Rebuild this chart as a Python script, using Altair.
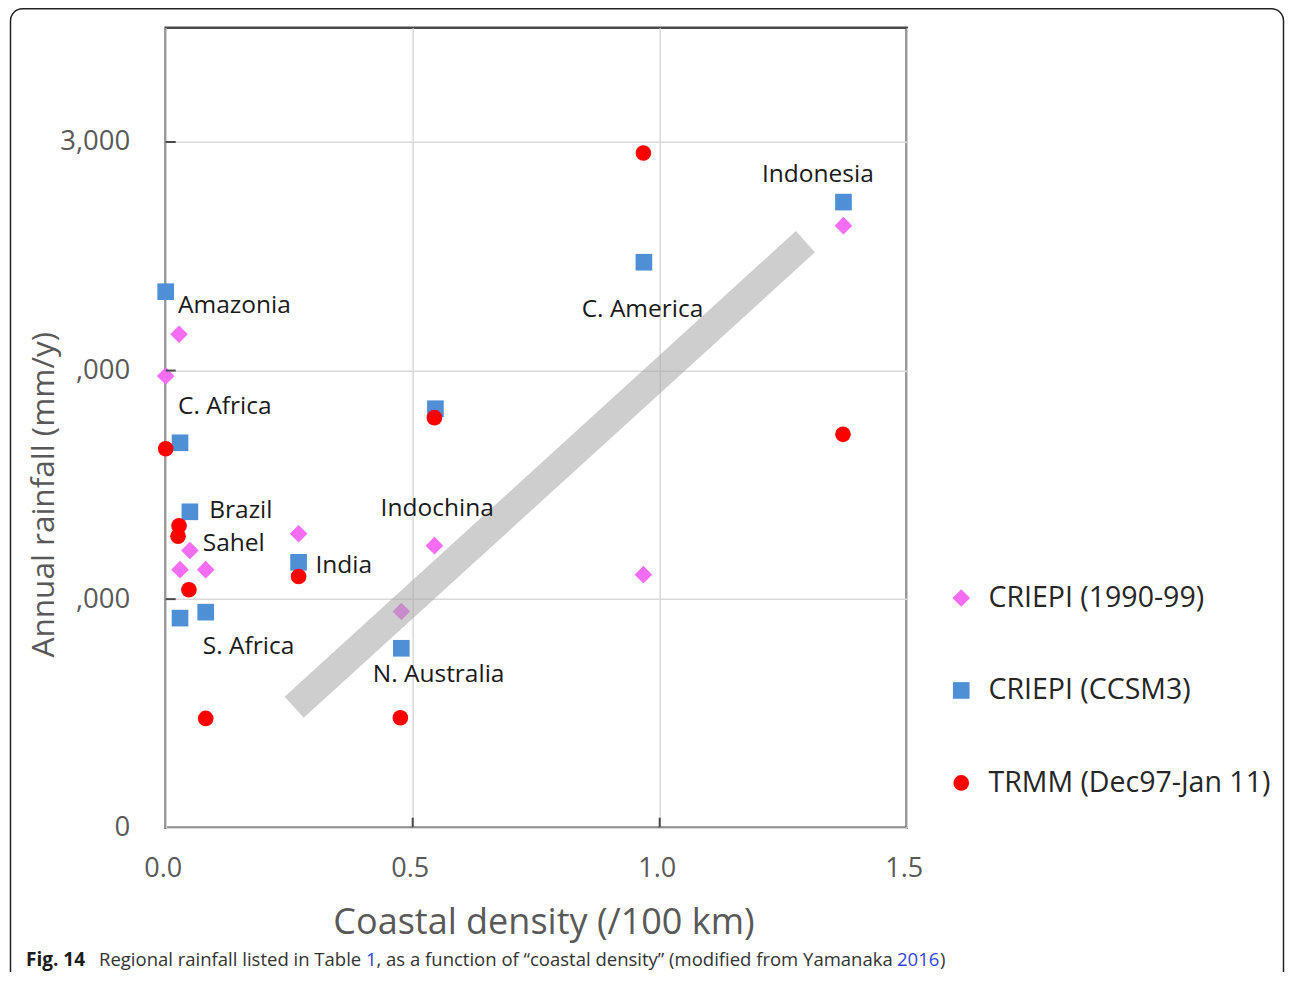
import altair as alt
import pandas as pd

# ---------------- data ----------------
series = ["CRIEPI (1990-99)", "CRIEPI (CCSM3)", "TRMM (Dec97-Jan 11)"]
series_colors = ["#f56cf5", "#4f8fd6", "#ff0000"]
series_shapes = ["diamond", "square", "circle"]
series_sizes = [310, 245, 324]

criepi_9099_x = [0.027, 0.0, 0.049, 0.029, 0.081, 0.269, 0.544, 0.477, 0.967, 1.372]
criepi_9099_y = [2159, 1976, 1213, 1129, 1129, 1286, 1234, 946, 1107, 2634]

criepi_ccsm3_x = [0.0, 0.029, 0.049, 0.269, 0.029, 0.081, 0.546, 0.477, 0.968, 1.372]
criepi_ccsm3_y = [2345, 1684, 1382, 1161, 917, 943, 1833, 785, 2474, 2737]

trmm_x = [0.0, 0.027, 0.025, 0.047, 0.081, 0.269, 0.475, 0.544, 0.967, 1.371]
trmm_y = [1658, 1321, 1275, 1041, 478, 1099, 481, 1794, 2952, 1721]

region_labels = ["Amazonia", "C. Africa", "Brazil", "Sahel", "India", "S. Africa",
                 "Indochina", "N. Australia", "C. America", "Indonesia"]
label_x = [0.025, 0.025, 0.088, 0.075, 0.303, 0.075, 0.435, 0.419, 0.842, 1.207]
label_y = [2282, 1839, 1386, 1240, 1146, 791, 1393, 668, 2265, 2856]

trend_x = [0.260, 1.295]
trend_y = [527, 2564]

x_tick_values = [0.0, 0.5, 1.0, 1.5]
y_tick_values = [0, 1000, 2000, 3000]
y_tick_labels = ["0", ",000", ",000", "3,000"]

caption_parts = ["Fig. 14", "Regional rainfall listed in Table ", "1",
                 ", as a function of \u201ccoastal density\u201d (modified from Yamanaka ",
                 "2016", ")"]

# ---------------- build tables ----------------
rows = []
for s, xs, ys in zip(series, [criepi_9099_x, criepi_ccsm3_x, trmm_x],
                     [criepi_9099_y, criepi_ccsm3_y, trmm_y]):
    for xv, yv in zip(xs, ys):
        rows.append({"series": s, "density": xv, "rain": yv})
df = pd.DataFrame(rows)
labels_df = pd.DataFrame({"label": region_labels, "density": label_x, "rain": label_y})
trend_df = pd.DataFrame({"density": trend_x, "rain": trend_y})

# ---------------- layout ----------------
OX, OY = 165.7, 27.7          # plot origin on the page
W, H = 741.0, 800.0           # plot area
SVG_W, SVG_H = 1277, 964      # whole chart, fits the window
FONT = "Open Sans"
GRAY = "#595959"

xscale = alt.Scale(domain=[0, 1.5], nice=False, zero=False)
yscale = alt.Scale(domain=[0, 3500], nice=False)

expr = "''"
for v, t in zip(y_tick_values, y_tick_labels):
    expr = f"datum.value == {v} ? '{t}' : ({expr})"

xaxis = alt.Axis(values=x_tick_values, format=".1f", grid=True, gridColor="#d9d9d9",
                 gridWidth=1.5, domain=False, ticks=False, labelFontSize=27,
                 labelColor=GRAY, labelFont=FONT, labelPadding=28, labelOffset=-3,
                 labelFlush=False, labelOverlap=False,
                 title="Coastal density (/100 km)", titleFontSize=36, titleColor=GRAY,
                 titleFont=FONT, titleFontWeight="normal", titleX=377.8, titleY=94.5,
                 titleBaseline="middle", titleAlign="center")
yaxis = alt.Axis(values=y_tick_values, labelExpr=expr, grid=True, gridColor="#d9d9d9",
                 gridWidth=1.5, domain=False, ticks=False, labelFontSize=27.5,
                 labelColor=GRAY, labelFont=FONT, labelPadding=36, labelFlush=False,
                 labelOverlap=False,
                 title="Annual rainfall (mm/y)", titleFontSize=31.5, titleColor=GRAY,
                 titleFont=FONT, titleFontWeight="normal", titleAngle=270,
                 titleX=-121.2, titleY=466.5, titleBaseline="middle", titleAlign="center")

X = alt.X("density:Q", scale=xscale, axis=xaxis)
Y = alt.Y("rain:Q", scale=yscale, axis=yaxis)

leg = alt.Legend(title=None, orient="none", legendX=781.3, legendY=556, padding=0,
                 labelFontSize=28.5, labelFont=FONT, labelColor="#262626", rowPadding=63.5,
                 labelOffset=13, symbolStrokeWidth=0, labelLimit=500, symbolOpacity=1)

points = alt.Chart(df).mark_point(filled=True, opacity=1, strokeWidth=0).encode(
    x=X, y=Y,
    color=alt.Color("series:N", scale=alt.Scale(domain=series, range=series_colors), legend=leg),
    shape=alt.Shape("series:N", scale=alt.Scale(domain=series, range=series_shapes), legend=leg),
    size=alt.Size("series:N", scale=alt.Scale(domain=series, range=series_sizes), legend=leg),
)

band = alt.Chart(trend_df).mark_line(strokeWidth=28.5, strokeCap="butt", color="#a6a6a6",
                                     opacity=0.55).encode(x=X, y=Y)

labels = alt.Chart(labels_df).mark_text(align="left", baseline="middle", font=FONT,
                                        fontSize=24.5, color="#1a1a1a").encode(
    x=X, y=Y, text="label:N")

ytick_df = pd.DataFrame({"rain": y_tick_values[1:]})
xtick_df = pd.DataFrame({"density": x_tick_values[1:3]})
yticks = alt.Chart(ytick_df).mark_rule(color="#4a4a4a", strokeWidth=2).encode(
    y=Y, x=alt.value(0), x2=alt.value(10))
xticks = alt.Chart(xtick_df).mark_rule(color="#4a4a4a", strokeWidth=2).encode(
    x=X, y=alt.value(H), y2=alt.value(H - 10))

# caption (annotation text below the plot, positioned relative to plot origin)
cap_x = [26, 99, 366, 376.5, 897, 940]
cap_size = [19, 18.5, 18.5, 18.5, 18.5, 18.5]
cap_color = ["#1a1a1a", "#333333", "#3344dd", "#333333", "#3344dd", "#333333"]
cap_weight = ["bold", "normal", "normal", "normal", "normal", "normal"]
CAP_BASE = 966
caption_layers = []
for t, cx, cs, cc, cw in zip(caption_parts, cap_x, cap_size, cap_color, cap_weight):
    caption_layers.append(
        alt.Chart(pd.DataFrame({"t": [t]})).mark_text(
            align="left", baseline="alphabetic", font=FONT, fontSize=cs,
            fontWeight=cw, color=cc).encode(
            text="t:N", x=alt.value(cx - OX), y=alt.value(CAP_BASE - OY)))

frame = alt.Chart(pd.DataFrame({"f": [0]})).mark_rect(
    fill="transparent", stroke="#222222", strokeWidth=1.5, cornerRadius=12).encode(
    x=alt.value(10.5 - OX), x2=alt.value(1283.5 - OX),
    y=alt.value(8.75 - OY), y2=alt.value(1100))

chart = alt.layer(points, band, labels, yticks, xticks, frame, *caption_layers).properties(
    width=W, height=H,
    autosize=alt.AutoSizeParams(type="none"),
    padding={"left": OX - 8, "top": OY - 8, "right": SVG_W - (OX - 8) - W,
             "bottom": SVG_H - (OY - 8) - H},
    background="white",
).configure_view(stroke="#4a4a4a", strokeWidth=2.5)

chart.save("out.html", embed_options={"renderer": "svg", "actions": False})
